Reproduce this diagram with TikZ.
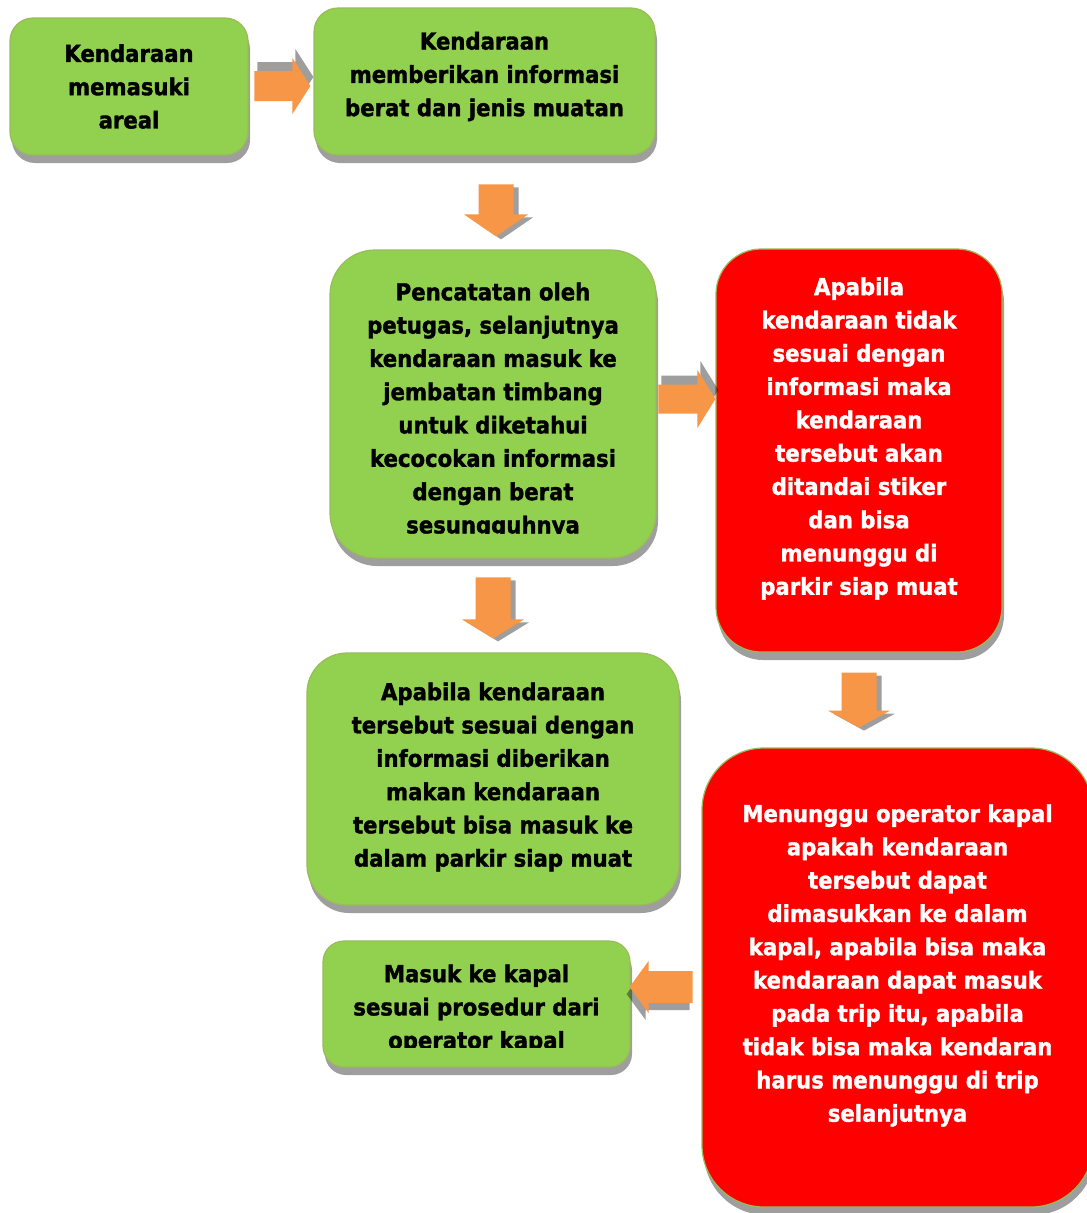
\documentclass[tikz,border=0pt]{standalone}
\usepackage{fontspec}
\setmainfont{DejaVu Sans}[FakeStretch=0.91,FakeBold=1.5]
\usepackage{tikz}
\usetikzlibrary{calc}
\usetikzlibrary{shadows}
\usetikzlibrary{positioning}
\definecolor{boxgreen}{HTML}{92D050}
\definecolor{boxred}{HTML}{FF0000}
\definecolor{boxedge}{HTML}{9BBB59}
\definecolor{arroworange}{HTML}{F79646}
\pgfdeclarelayer{back}
\pgfsetlayers{back,main}

\newcommand{\blockarrow}[7]{%
	\begin{scope}[shift={#1},rotate=#2]
		\fill[black,opacity=0.38] (3,-#7) -- ({3-#6},{-#7+#5/2}) -- ({3-#6},{-#7+#4/2}) -- ({3-#3},{-#7+#4/2}) -- ({3-#3},{-#7-#4/2}) -- ({3-#6},{-#7-#4/2}) -- ({3-#6},{-#7-#5/2}) -- cycle;
		\fill[arroworange] (0,0) -- (-#6,#5/2) -- (-#6,#4/2) -- (-#3,#4/2) -- (-#3,-#4/2) -- (-#6,-#4/2) -- (-#6,-#5/2) -- cycle;
	\end{scope}}

\begin{document}
\begin{tikzpicture}[x=1pt,y=-1pt,
		box/.style={draw=boxedge,line width=1.2,inner sep=0,
			drop shadow={shadow xshift=2pt,shadow yshift=-8pt,fill=black,opacity=0.38}},
		gbox/.style={box,fill=boxgreen},
		rbox/.style={box,fill=boxred},
		txt/.style={align=center,inner sep=0,font=\bfseries\fontsize{23.3}{33.3}\selectfont},
		dark/.style={txt,text=black},
		light/.style={txt,text=white}]
		\useasboundingbox[fill=white] (0,0) rectangle (1087,1213);
		\node[gbox,rounded corners=23,minimum width=238,minimum height=137] (masuk) at (129,86.5) {};
		\node[gbox,rounded corners=24,minimum width=341,minimum height=147] (info) at (484.5,81.5) {};
		\node[gbox,rounded corners=45,minimum width=326,minimum height=308] (catat) at (493,404) {};
		\node[rbox,rounded corners=45,minimum width=286,minimum height=403] (tidak) at (859,450.5) {};
		\node[gbox,rounded corners=40,minimum width=372,minimum height=252] (sesuai) at (493,779) {};
		\node[gbox,rounded corners=21,minimum width=307,minimum height=126] (kapal) at (476.5,1004) {};
		\node[rbox,rounded corners=62,minimum width=391,minimum height=459] (tunggu) at (897.5,977.5) {};

		\node[dark] (masukt) at (masuk) {Kendaraan\\memasuki\\areal};
		\node[dark] (infot) at ($(info)+(0,-5)$) {Kendaraan\\memberikan informasi\\berat dan jenis muatan};
		\begin{scope}
			\clip (catat.north west) rectangle ($(catat.east)+(0,129)$);
			\node[dark] (catatt) at ($(catat)+(0,6.5)$) {Pencatatan oleh\\petugas, selanjutnya\\kendaraan masuk ke\\jembatan timbang\\untuk diketahui\\kecocokan informasi\\dengan berat\\sesungguhnya};
		\end{scope}
		\node[light] (tidakt) at ($(tidak)+(0,-12)$) {Apabila\\kendaraan tidak\\sesuai dengan\\informasi maka\\kendaraan\\tersebut akan\\ditandai stiker\\dan bisa\\menunggu di\\parkir siap muat};
		\node[dark] (sesuait) at ($(sesuai)+(0,-2)$) {Apabila kendaraan\\tersebut sesuai dengan\\informasi diberikan\\makan kendaraan\\tersebut bisa masuk ke\\dalam parkir siap muat};
		\begin{scope}
			\clip (kapal.north west) rectangle ($(kapal.east)+(0,43)$);
			\node[dark] (kapalt) at ($(kapal)+(0,5)$) {Masuk ke kapal\\sesuai prosedur dari\\operator kapal};
		\end{scope}
		\node[light] (tunggut) at ($(tunggu)+(0,-12)$) {Menunggu operator kapal\\apakah kendaraan\\tersebut dapat\\dimasukkan ke dalam\\kapal, apabila bisa maka\\kendaraan dapat masuk\\pada trip itu, apabila\\tidak bisa maka kendaran\\harus menunggu di trip\\selanjutnya};

		\blockarrow{($(info.west)+(-3,4.5)$)}{0}{56}{30}{56}{18}{9}
		\blockarrow{($(catat.north)+(3,-13)$)}{-90}{52}{35}{64}{22}{5}
		\blockarrow{($(tidak.west)+(0,-51.5)$)}{0}{57}{29}{58}{18}{9}
		\blockarrow{($(sesuai.north)+(0,-14)$)}{-90}{61}{35}{62}{19}{5}
		\blockarrow{($(tidak.south)+(0,75)$)}{-90}{55}{35}{62}{17}{5}
		\blockarrow{($(kapal.east)+(-1,-17)$)}{180}{63}{32}{52}{19}{7}
		\begin{pgfonlayer}{back}
			\blockarrow{($(kapal.north)+(21,16)$)}{-90}{62}{35}{64}{22}{5}
		\end{pgfonlayer}
\end{tikzpicture}
\end{document}
